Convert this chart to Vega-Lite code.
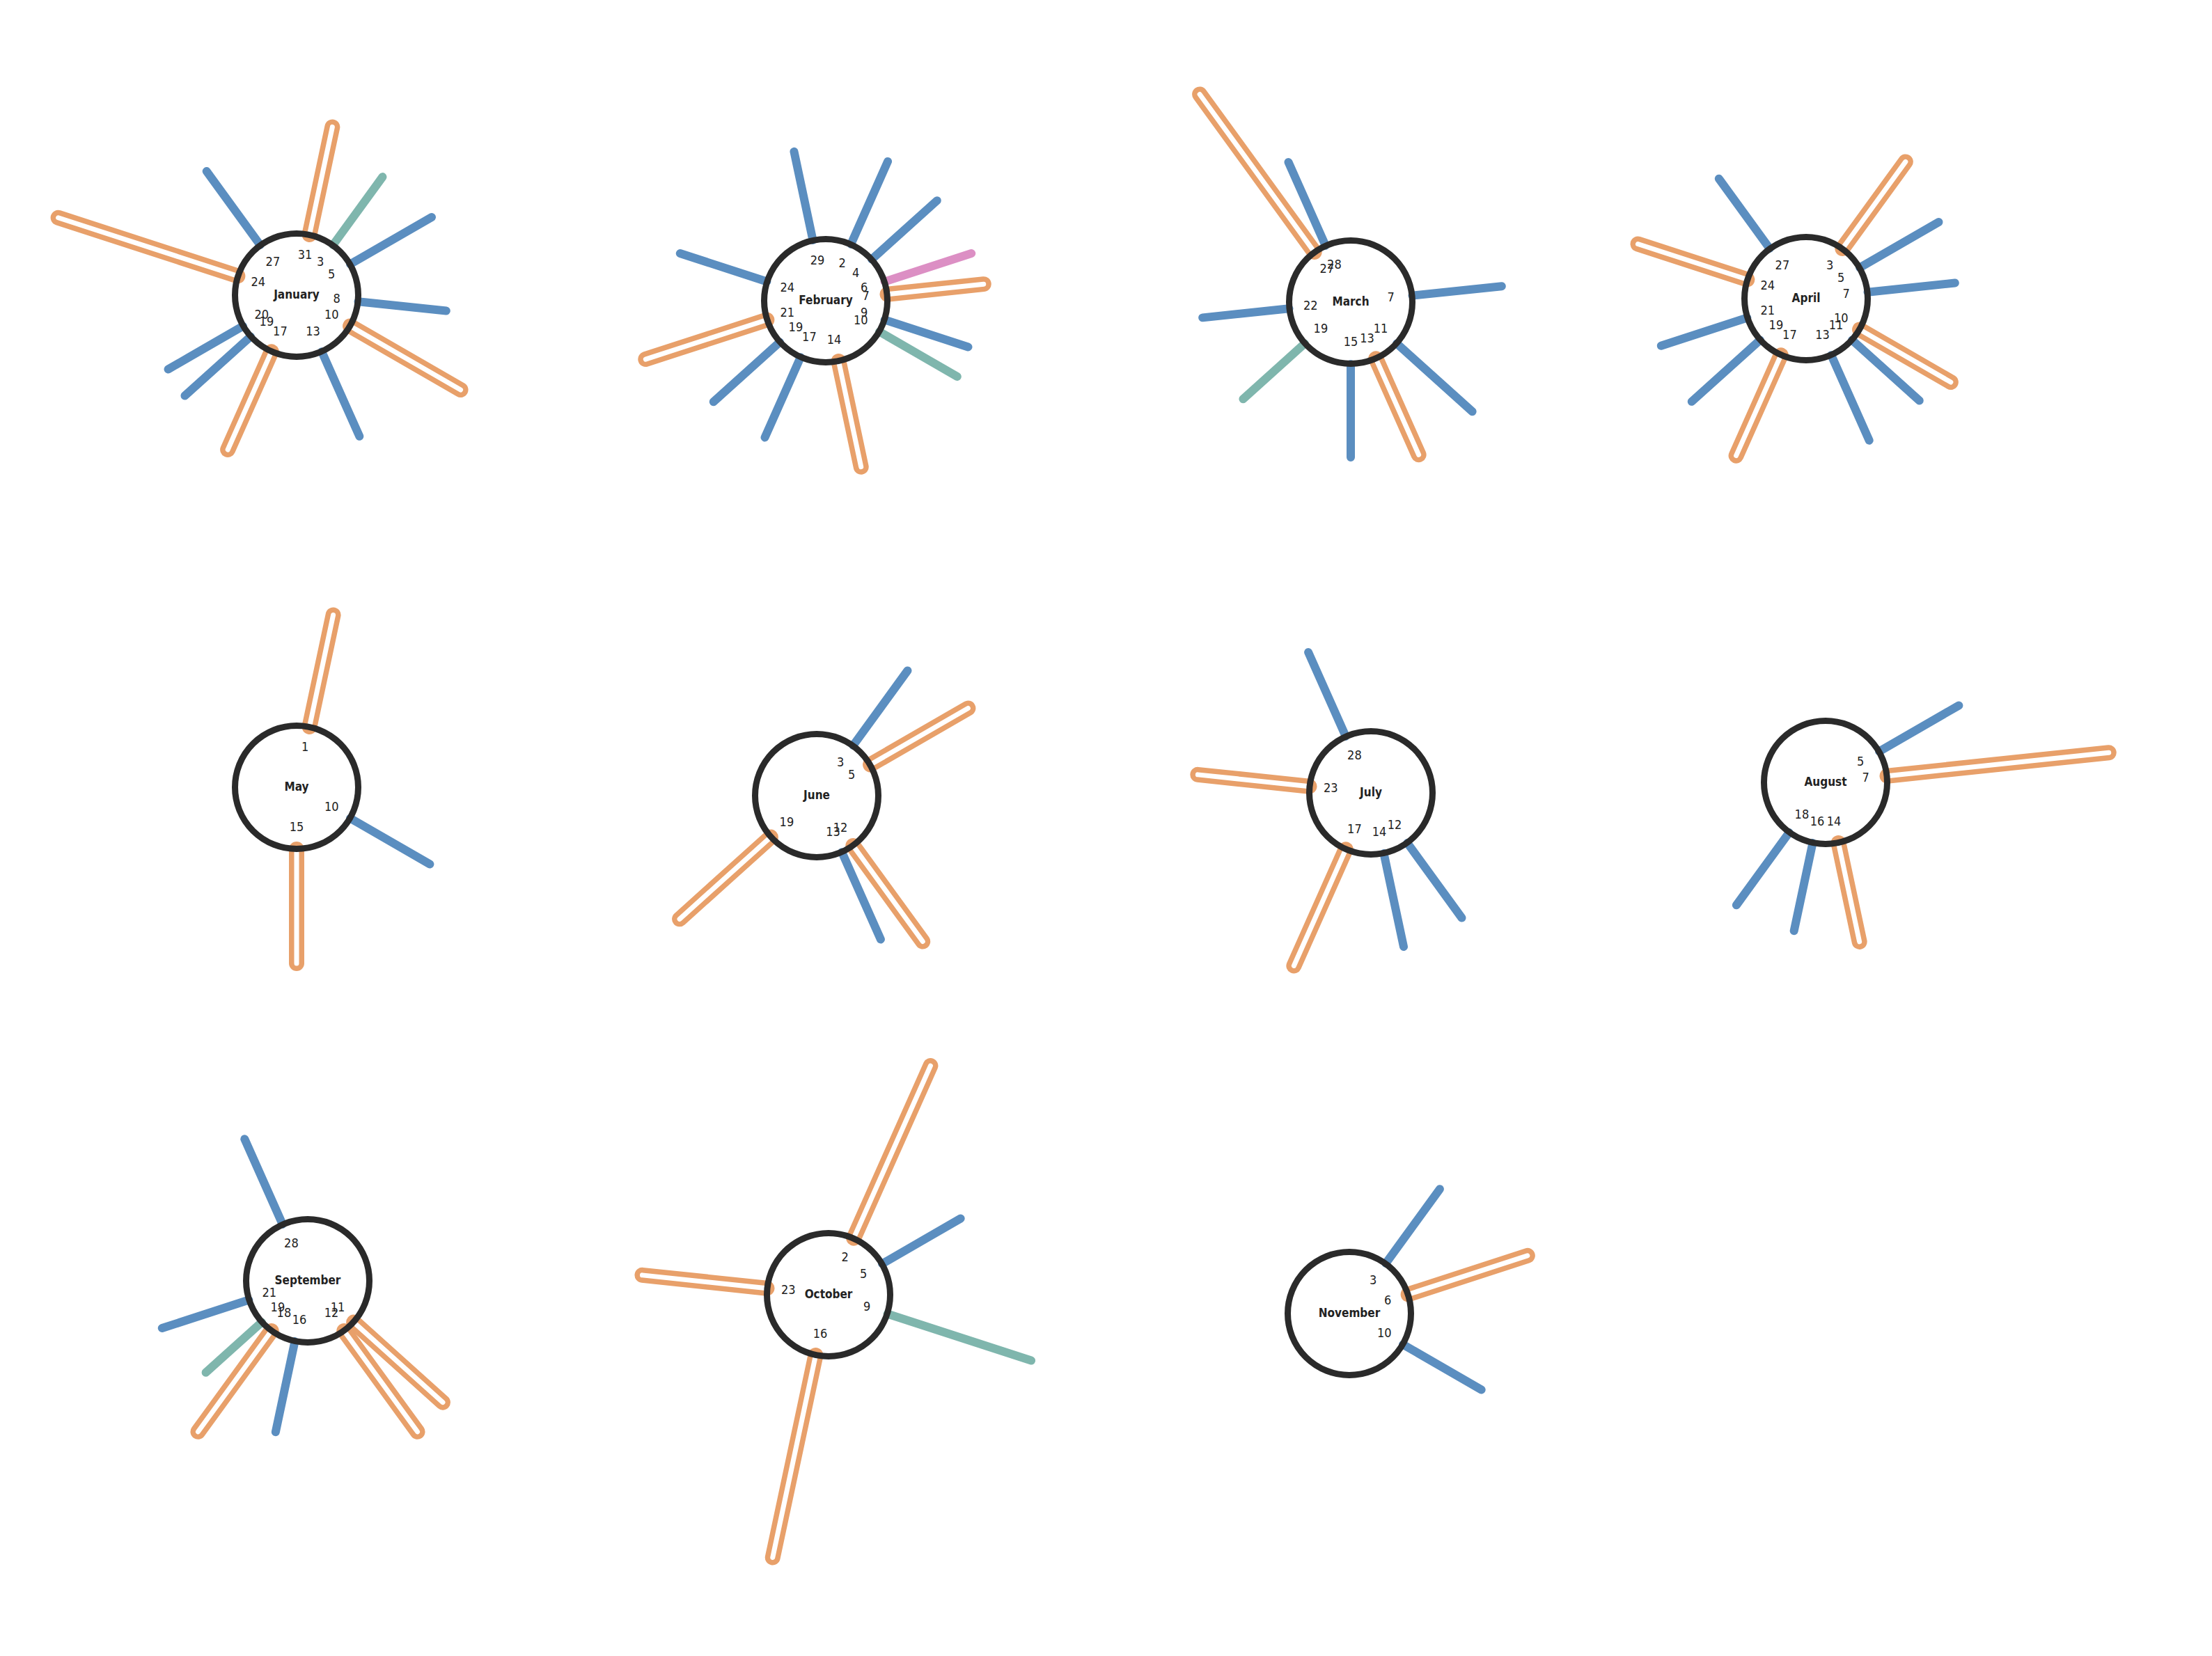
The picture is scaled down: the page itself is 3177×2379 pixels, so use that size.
{
  "$schema": "https://vega.github.io/schema/vega-lite/v6.json",
  "padding": 0,
  "background": "white",
  "config": {"view": {"stroke": null}},
  "columns": 4,
  "align": "each",
  "bounds": "flush",
  "spacing": 0,
  "data": {"values": [
    {"month": "January", "day": 24, "category": "B", "length": 271},
    {"month": "January", "day": 27, "category": "A", "length": 131},
    {"month": "January", "day": 31, "category": "B", "length": 158},
    {"month": "January", "day": 3, "category": "C", "length": 121},
    {"month": "January", "day": 5, "category": "A", "length": 135},
    {"month": "January", "day": 8, "category": "A", "length": 127},
    {"month": "January", "day": 10, "category": "B", "length": 183},
    {"month": "January", "day": 13, "category": "A", "length": 133},
    {"month": "January", "day": 17, "category": "B", "length": 154},
    {"month": "January", "day": 19, "category": "A", "length": 127},
    {"month": "January", "day": 20, "category": "A", "length": 124},
    {"month": "February", "day": 29, "category": "A", "length": 130},
    {"month": "February", "day": 2, "category": "A", "length": 130},
    {"month": "February", "day": 4, "category": "A", "length": 126},
    {"month": "February", "day": 6, "category": "D", "length": 131},
    {"month": "February", "day": 7, "category": "B", "length": 139},
    {"month": "February", "day": 9, "category": "A", "length": 126},
    {"month": "February", "day": 10, "category": "C", "length": 129},
    {"month": "February", "day": 14, "category": "B", "length": 155},
    {"month": "February", "day": 17, "category": "A", "length": 126},
    {"month": "February", "day": 19, "category": "A", "length": 128},
    {"month": "February", "day": 21, "category": "B", "length": 183},
    {"month": "February", "day": 24, "category": "A", "length": 131},
    {"month": "March", "day": 27, "category": "B", "length": 280},
    {"month": "March", "day": 28, "category": "A", "length": 131},
    {"month": "March", "day": 7, "category": "A", "length": 129},
    {"month": "March", "day": 11, "category": "A", "length": 146},
    {"month": "March", "day": 13, "category": "B", "length": 151},
    {"month": "March", "day": 15, "category": "A", "length": 134},
    {"month": "March", "day": 19, "category": "C", "length": 119},
    {"month": "March", "day": 22, "category": "A", "length": 125},
    {"month": "April", "day": 27, "category": "A", "length": 124},
    {"month": "April", "day": 3, "category": "B", "length": 154},
    {"month": "April", "day": 5, "category": "A", "length": 131},
    {"month": "April", "day": 7, "category": "A", "length": 126},
    {"month": "April", "day": 10, "category": "B", "length": 151},
    {"month": "April", "day": 11, "category": "A", "length": 130},
    {"month": "April", "day": 13, "category": "A", "length": 134},
    {"month": "April", "day": 17, "category": "B", "length": 158},
    {"month": "April", "day": 19, "category": "A", "length": 132},
    {"month": "April", "day": 21, "category": "A", "length": 130},
    {"month": "April", "day": 24, "category": "B", "length": 165},
    {"month": "May", "day": 1, "category": "B", "length": 164},
    {"month": "May", "day": 10, "category": "A", "length": 132},
    {"month": "May", "day": 15, "category": "B", "length": 164},
    {"month": "June", "day": 3, "category": "A", "length": 133},
    {"month": "June", "day": 5, "category": "B", "length": 162},
    {"month": "June", "day": 12, "category": "B", "length": 170},
    {"month": "June", "day": 13, "category": "A", "length": 137},
    {"month": "June", "day": 19, "category": "B", "length": 176},
    {"month": "July", "day": 28, "category": "A", "length": 132},
    {"month": "July", "day": 23, "category": "B", "length": 161},
    {"month": "July", "day": 17, "category": "B", "length": 183},
    {"month": "July", "day": 14, "category": "A", "length": 137},
    {"month": "July", "day": 12, "category": "A", "length": 133},
    {"month": "August", "day": 5, "category": "A", "length": 132},
    {"month": "August", "day": 7, "category": "B", "length": 320},
    {"month": "August", "day": 14, "category": "B", "length": 145},
    {"month": "August", "day": 16, "category": "A", "length": 129},
    {"month": "August", "day": 18, "category": "A", "length": 129},
    {"month": "September", "day": 28, "category": "A", "length": 134},
    {"month": "September", "day": 21, "category": "A", "length": 131},
    {"month": "September", "day": 19, "category": "C", "length": 108},
    {"month": "September", "day": 18, "category": "B", "length": 179},
    {"month": "September", "day": 16, "category": "A", "length": 133},
    {"month": "September", "day": 12, "category": "B", "length": 179},
    {"month": "September", "day": 11, "category": "B", "length": 172},
    {"month": "October", "day": 2, "category": "B", "length": 271},
    {"month": "October", "day": 5, "category": "A", "length": 130},
    {"month": "October", "day": 9, "category": "C", "length": 217},
    {"month": "October", "day": 16, "category": "B", "length": 297},
    {"month": "October", "day": 23, "category": "B", "length": 180},
    {"month": "November", "day": 3, "category": "A", "length": 132},
    {"month": "November", "day": 6, "category": "B", "length": 180},
    {"month": "November", "day": 10, "category": "A", "length": 130}
  ]},
  "concat": [
    {"width": 852, "height": 848, "transform": [{"filter": {"field": "month", "equal": "January"}}], "layer": [
      {"transform": [{"filter": {"field": "category", "oneOf": ["A", "C", "D"]}}], "mark": {"type": "arc", "filled": false, "strokeWidth": 12, "strokeJoin": "round", "strokeCap": "round"}, "encoding": {"theta": {"field": "day", "type": "quantitative", "stack": null, "scale": {"type": "linear", "domain": [0, 30], "range": [0, 6.283185307179586], "zero": false, "nice": false}}, "theta2": {"field": "day"}, "radius": {"field": "length", "type": "quantitative", "scale": {"type": "linear", "domain": [0, 400], "range": [89, 489], "zero": false, "nice": false}}, "radius2": {"datum": 0}, "color": {"field": "category", "type": "nominal", "scale": {"domain": ["A", "B", "C", "D"], "range": ["#5b8ec0", "#e8a06a", "#7fb6ad", "#dc8fc4"]}, "legend": null}}},
      {"transform": [{"filter": {"field": "category", "equal": "B"}}], "mark": {"type": "arc", "filled": false, "strokeWidth": 22, "strokeJoin": "round", "strokeCap": "round"}, "encoding": {"theta": {"field": "day", "type": "quantitative", "stack": null, "scale": {"type": "linear", "domain": [0, 30], "range": [0, 6.283185307179586], "zero": false, "nice": false}}, "theta2": {"field": "day"}, "radius": {"field": "length", "type": "quantitative", "scale": {"type": "linear", "domain": [0, 400], "range": [89, 489], "zero": false, "nice": false}}, "radius2": {"datum": 0}, "color": {"field": "category", "type": "nominal", "scale": {"domain": ["A", "B", "C", "D"], "range": ["#5b8ec0", "#e8a06a", "#7fb6ad", "#dc8fc4"]}, "legend": null}}},
      {"transform": [{"filter": {"field": "category", "equal": "B"}}], "mark": {"type": "arc", "filled": false, "stroke": "white", "strokeWidth": 7, "strokeJoin": "round", "strokeCap": "round"}, "encoding": {"theta": {"field": "day", "type": "quantitative", "stack": null, "scale": {"type": "linear", "domain": [0, 30], "range": [0, 6.283185307179586], "zero": false, "nice": false}}, "theta2": {"field": "day"}, "radius": {"field": "length", "type": "quantitative", "scale": {"type": "linear", "domain": [0, 400], "range": [89, 489], "zero": false, "nice": false}}, "radius2": {"datum": 0}}},
      {"transform": [{"aggregate": [{"op": "count", "as": "rays"}], "groupby": ["month"]}], "mark": {"type": "arc", "theta": 6.283185307179586, "radius": 88.5, "filled": false, "stroke": "#2a2a2a", "strokeWidth": 9}, "encoding": {}},
      {"mark": {"type": "text", "font": "DejaVu Sans Condensed, DejaVu Sans", "fontSize": 18, "color": "#222222"}, "encoding": {"theta": {"field": "day", "type": "quantitative", "stack": null, "scale": {"type": "linear", "domain": [0, 30], "range": [0, 6.283185307179586], "zero": false, "nice": false}}, "radius": {"value": 58}, "text": {"field": "day", "type": "nominal"}}},
      {"transform": [{"aggregate": [{"op": "count", "as": "rays"}], "groupby": ["month"]}], "mark": {"type": "text", "font": "DejaVu Sans Condensed, DejaVu Sans", "fontSize": 17, "fontWeight": "bold", "color": "#222222"}, "encoding": {"text": {"field": "month", "type": "nominal"}}}
    ]},
    {"width": 604, "height": 864, "transform": [{"filter": {"field": "month", "equal": "February"}}], "layer": [
      {"transform": [{"filter": {"field": "category", "oneOf": ["A", "C", "D"]}}], "mark": {"type": "arc", "filled": false, "strokeWidth": 12, "strokeJoin": "round", "strokeCap": "round"}, "encoding": {"theta": {"field": "day", "type": "quantitative", "stack": null, "scale": {"type": "linear", "domain": [0, 30], "range": [0, 6.283185307179586], "zero": false, "nice": false}}, "theta2": {"field": "day"}, "radius": {"field": "length", "type": "quantitative", "scale": {"type": "linear", "domain": [0, 400], "range": [89, 489], "zero": false, "nice": false}}, "radius2": {"datum": 0}, "color": {"field": "category", "type": "nominal", "scale": {"domain": ["A", "B", "C", "D"], "range": ["#5b8ec0", "#e8a06a", "#7fb6ad", "#dc8fc4"]}, "legend": null}}},
      {"transform": [{"filter": {"field": "category", "equal": "B"}}], "mark": {"type": "arc", "filled": false, "strokeWidth": 22, "strokeJoin": "round", "strokeCap": "round"}, "encoding": {"theta": {"field": "day", "type": "quantitative", "stack": null, "scale": {"type": "linear", "domain": [0, 30], "range": [0, 6.283185307179586], "zero": false, "nice": false}}, "theta2": {"field": "day"}, "radius": {"field": "length", "type": "quantitative", "scale": {"type": "linear", "domain": [0, 400], "range": [89, 489], "zero": false, "nice": false}}, "radius2": {"datum": 0}, "color": {"field": "category", "type": "nominal", "scale": {"domain": ["A", "B", "C", "D"], "range": ["#5b8ec0", "#e8a06a", "#7fb6ad", "#dc8fc4"]}, "legend": null}}},
      {"transform": [{"filter": {"field": "category", "equal": "B"}}], "mark": {"type": "arc", "filled": false, "stroke": "white", "strokeWidth": 7, "strokeJoin": "round", "strokeCap": "round"}, "encoding": {"theta": {"field": "day", "type": "quantitative", "stack": null, "scale": {"type": "linear", "domain": [0, 30], "range": [0, 6.283185307179586], "zero": false, "nice": false}}, "theta2": {"field": "day"}, "radius": {"field": "length", "type": "quantitative", "scale": {"type": "linear", "domain": [0, 400], "range": [89, 489], "zero": false, "nice": false}}, "radius2": {"datum": 0}}},
      {"transform": [{"aggregate": [{"op": "count", "as": "rays"}], "groupby": ["month"]}], "mark": {"type": "arc", "theta": 6.283185307179586, "radius": 88.5, "filled": false, "stroke": "#2a2a2a", "strokeWidth": 9}, "encoding": {}},
      {"mark": {"type": "text", "font": "DejaVu Sans Condensed, DejaVu Sans", "fontSize": 18, "color": "#222222"}, "encoding": {"theta": {"field": "day", "type": "quantitative", "stack": null, "scale": {"type": "linear", "domain": [0, 30], "range": [0, 6.283185307179586], "zero": false, "nice": false}}, "radius": {"value": 58}, "text": {"field": "day", "type": "nominal"}}},
      {"transform": [{"aggregate": [{"op": "count", "as": "rays"}], "groupby": ["month"]}], "mark": {"type": "text", "font": "DejaVu Sans Condensed, DejaVu Sans", "fontSize": 17, "fontWeight": "bold", "color": "#222222"}, "encoding": {"text": {"field": "month", "type": "nominal"}}}
    ]},
    {"width": 888, "height": 868, "transform": [{"filter": {"field": "month", "equal": "March"}}], "layer": [
      {"transform": [{"filter": {"field": "category", "oneOf": ["A", "C", "D"]}}], "mark": {"type": "arc", "filled": false, "strokeWidth": 12, "strokeJoin": "round", "strokeCap": "round"}, "encoding": {"theta": {"field": "day", "type": "quantitative", "stack": null, "scale": {"type": "linear", "domain": [0, 30], "range": [0, 6.283185307179586], "zero": false, "nice": false}}, "theta2": {"field": "day"}, "radius": {"field": "length", "type": "quantitative", "scale": {"type": "linear", "domain": [0, 400], "range": [89, 489], "zero": false, "nice": false}}, "radius2": {"datum": 0}, "color": {"field": "category", "type": "nominal", "scale": {"domain": ["A", "B", "C", "D"], "range": ["#5b8ec0", "#e8a06a", "#7fb6ad", "#dc8fc4"]}, "legend": null}}},
      {"transform": [{"filter": {"field": "category", "equal": "B"}}], "mark": {"type": "arc", "filled": false, "strokeWidth": 22, "strokeJoin": "round", "strokeCap": "round"}, "encoding": {"theta": {"field": "day", "type": "quantitative", "stack": null, "scale": {"type": "linear", "domain": [0, 30], "range": [0, 6.283185307179586], "zero": false, "nice": false}}, "theta2": {"field": "day"}, "radius": {"field": "length", "type": "quantitative", "scale": {"type": "linear", "domain": [0, 400], "range": [89, 489], "zero": false, "nice": false}}, "radius2": {"datum": 0}, "color": {"field": "category", "type": "nominal", "scale": {"domain": ["A", "B", "C", "D"], "range": ["#5b8ec0", "#e8a06a", "#7fb6ad", "#dc8fc4"]}, "legend": null}}},
      {"transform": [{"filter": {"field": "category", "equal": "B"}}], "mark": {"type": "arc", "filled": false, "stroke": "white", "strokeWidth": 7, "strokeJoin": "round", "strokeCap": "round"}, "encoding": {"theta": {"field": "day", "type": "quantitative", "stack": null, "scale": {"type": "linear", "domain": [0, 30], "range": [0, 6.283185307179586], "zero": false, "nice": false}}, "theta2": {"field": "day"}, "radius": {"field": "length", "type": "quantitative", "scale": {"type": "linear", "domain": [0, 400], "range": [89, 489], "zero": false, "nice": false}}, "radius2": {"datum": 0}}},
      {"transform": [{"aggregate": [{"op": "count", "as": "rays"}], "groupby": ["month"]}], "mark": {"type": "arc", "theta": 6.283185307179586, "radius": 88.5, "filled": false, "stroke": "#2a2a2a", "strokeWidth": 9}, "encoding": {}},
      {"mark": {"type": "text", "font": "DejaVu Sans Condensed, DejaVu Sans", "fontSize": 18, "color": "#222222"}, "encoding": {"theta": {"field": "day", "type": "quantitative", "stack": null, "scale": {"type": "linear", "domain": [0, 30], "range": [0, 6.283185307179586], "zero": false, "nice": false}}, "radius": {"value": 58}, "text": {"field": "day", "type": "nominal"}}},
      {"transform": [{"aggregate": [{"op": "count", "as": "rays"}], "groupby": ["month"]}], "mark": {"type": "text", "font": "DejaVu Sans Condensed, DejaVu Sans", "fontSize": 17, "fontWeight": "bold", "color": "#222222"}, "encoding": {"text": {"field": "month", "type": "nominal"}}}
    ]},
    {"width": 304, "height": 858, "transform": [{"filter": {"field": "month", "equal": "April"}}], "layer": [
      {"transform": [{"filter": {"field": "category", "oneOf": ["A", "C", "D"]}}], "mark": {"type": "arc", "filled": false, "strokeWidth": 12, "strokeJoin": "round", "strokeCap": "round"}, "encoding": {"theta": {"field": "day", "type": "quantitative", "stack": null, "scale": {"type": "linear", "domain": [0, 30], "range": [0, 6.283185307179586], "zero": false, "nice": false}}, "theta2": {"field": "day"}, "radius": {"field": "length", "type": "quantitative", "scale": {"type": "linear", "domain": [0, 400], "range": [89, 489], "zero": false, "nice": false}}, "radius2": {"datum": 0}, "color": {"field": "category", "type": "nominal", "scale": {"domain": ["A", "B", "C", "D"], "range": ["#5b8ec0", "#e8a06a", "#7fb6ad", "#dc8fc4"]}, "legend": null}}},
      {"transform": [{"filter": {"field": "category", "equal": "B"}}], "mark": {"type": "arc", "filled": false, "strokeWidth": 22, "strokeJoin": "round", "strokeCap": "round"}, "encoding": {"theta": {"field": "day", "type": "quantitative", "stack": null, "scale": {"type": "linear", "domain": [0, 30], "range": [0, 6.283185307179586], "zero": false, "nice": false}}, "theta2": {"field": "day"}, "radius": {"field": "length", "type": "quantitative", "scale": {"type": "linear", "domain": [0, 400], "range": [89, 489], "zero": false, "nice": false}}, "radius2": {"datum": 0}, "color": {"field": "category", "type": "nominal", "scale": {"domain": ["A", "B", "C", "D"], "range": ["#5b8ec0", "#e8a06a", "#7fb6ad", "#dc8fc4"]}, "legend": null}}},
      {"transform": [{"filter": {"field": "category", "equal": "B"}}], "mark": {"type": "arc", "filled": false, "stroke": "white", "strokeWidth": 7, "strokeJoin": "round", "strokeCap": "round"}, "encoding": {"theta": {"field": "day", "type": "quantitative", "stack": null, "scale": {"type": "linear", "domain": [0, 30], "range": [0, 6.283185307179586], "zero": false, "nice": false}}, "theta2": {"field": "day"}, "radius": {"field": "length", "type": "quantitative", "scale": {"type": "linear", "domain": [0, 400], "range": [89, 489], "zero": false, "nice": false}}, "radius2": {"datum": 0}}},
      {"transform": [{"aggregate": [{"op": "count", "as": "rays"}], "groupby": ["month"]}], "mark": {"type": "arc", "theta": 6.283185307179586, "radius": 88.5, "filled": false, "stroke": "#2a2a2a", "strokeWidth": 9}, "encoding": {}},
      {"mark": {"type": "text", "font": "DejaVu Sans Condensed, DejaVu Sans", "fontSize": 18, "color": "#222222"}, "encoding": {"theta": {"field": "day", "type": "quantitative", "stack": null, "scale": {"type": "linear", "domain": [0, 30], "range": [0, 6.283185307179586], "zero": false, "nice": false}}, "radius": {"value": 58}, "text": {"field": "day", "type": "nominal"}}},
      {"transform": [{"aggregate": [{"op": "count", "as": "rays"}], "groupby": ["month"]}], "mark": {"type": "text", "font": "DejaVu Sans Condensed, DejaVu Sans", "fontSize": 17, "fontWeight": "bold", "color": "#222222"}, "encoding": {"text": {"field": "month", "type": "nominal"}}}
    ]},
    {"width": 852, "height": 526, "transform": [{"filter": {"field": "month", "equal": "May"}}], "layer": [
      {"transform": [{"filter": {"field": "category", "oneOf": ["A", "C", "D"]}}], "mark": {"type": "arc", "filled": false, "strokeWidth": 12, "strokeJoin": "round", "strokeCap": "round"}, "encoding": {"theta": {"field": "day", "type": "quantitative", "stack": null, "scale": {"type": "linear", "domain": [0, 30], "range": [0, 6.283185307179586], "zero": false, "nice": false}}, "theta2": {"field": "day"}, "radius": {"field": "length", "type": "quantitative", "scale": {"type": "linear", "domain": [0, 400], "range": [89, 489], "zero": false, "nice": false}}, "radius2": {"datum": 0}, "color": {"field": "category", "type": "nominal", "scale": {"domain": ["A", "B", "C", "D"], "range": ["#5b8ec0", "#e8a06a", "#7fb6ad", "#dc8fc4"]}, "legend": null}}},
      {"transform": [{"filter": {"field": "category", "equal": "B"}}], "mark": {"type": "arc", "filled": false, "strokeWidth": 22, "strokeJoin": "round", "strokeCap": "round"}, "encoding": {"theta": {"field": "day", "type": "quantitative", "stack": null, "scale": {"type": "linear", "domain": [0, 30], "range": [0, 6.283185307179586], "zero": false, "nice": false}}, "theta2": {"field": "day"}, "radius": {"field": "length", "type": "quantitative", "scale": {"type": "linear", "domain": [0, 400], "range": [89, 489], "zero": false, "nice": false}}, "radius2": {"datum": 0}, "color": {"field": "category", "type": "nominal", "scale": {"domain": ["A", "B", "C", "D"], "range": ["#5b8ec0", "#e8a06a", "#7fb6ad", "#dc8fc4"]}, "legend": null}}},
      {"transform": [{"filter": {"field": "category", "equal": "B"}}], "mark": {"type": "arc", "filled": false, "stroke": "white", "strokeWidth": 7, "strokeJoin": "round", "strokeCap": "round"}, "encoding": {"theta": {"field": "day", "type": "quantitative", "stack": null, "scale": {"type": "linear", "domain": [0, 30], "range": [0, 6.283185307179586], "zero": false, "nice": false}}, "theta2": {"field": "day"}, "radius": {"field": "length", "type": "quantitative", "scale": {"type": "linear", "domain": [0, 400], "range": [89, 489], "zero": false, "nice": false}}, "radius2": {"datum": 0}}},
      {"transform": [{"aggregate": [{"op": "count", "as": "rays"}], "groupby": ["month"]}], "mark": {"type": "arc", "theta": 6.283185307179586, "radius": 88.5, "filled": false, "stroke": "#2a2a2a", "strokeWidth": 9}, "encoding": {}},
      {"mark": {"type": "text", "font": "DejaVu Sans Condensed, DejaVu Sans", "fontSize": 18, "color": "#222222"}, "encoding": {"theta": {"field": "day", "type": "quantitative", "stack": null, "scale": {"type": "linear", "domain": [0, 30], "range": [0, 6.283185307179586], "zero": false, "nice": false}}, "radius": {"value": 58}, "text": {"field": "day", "type": "nominal"}}},
      {"transform": [{"aggregate": [{"op": "count", "as": "rays"}], "groupby": ["month"]}], "mark": {"type": "text", "font": "DejaVu Sans Condensed, DejaVu Sans", "fontSize": 17, "fontWeight": "bold", "color": "#222222"}, "encoding": {"text": {"field": "month", "type": "nominal"}}}
    ]},
    {"width": 578, "height": 550, "transform": [{"filter": {"field": "month", "equal": "June"}}], "layer": [
      {"transform": [{"filter": {"field": "category", "oneOf": ["A", "C", "D"]}}], "mark": {"type": "arc", "filled": false, "strokeWidth": 12, "strokeJoin": "round", "strokeCap": "round"}, "encoding": {"theta": {"field": "day", "type": "quantitative", "stack": null, "scale": {"type": "linear", "domain": [0, 30], "range": [0, 6.283185307179586], "zero": false, "nice": false}}, "theta2": {"field": "day"}, "radius": {"field": "length", "type": "quantitative", "scale": {"type": "linear", "domain": [0, 400], "range": [89, 489], "zero": false, "nice": false}}, "radius2": {"datum": 0}, "color": {"field": "category", "type": "nominal", "scale": {"domain": ["A", "B", "C", "D"], "range": ["#5b8ec0", "#e8a06a", "#7fb6ad", "#dc8fc4"]}, "legend": null}}},
      {"transform": [{"filter": {"field": "category", "equal": "B"}}], "mark": {"type": "arc", "filled": false, "strokeWidth": 22, "strokeJoin": "round", "strokeCap": "round"}, "encoding": {"theta": {"field": "day", "type": "quantitative", "stack": null, "scale": {"type": "linear", "domain": [0, 30], "range": [0, 6.283185307179586], "zero": false, "nice": false}}, "theta2": {"field": "day"}, "radius": {"field": "length", "type": "quantitative", "scale": {"type": "linear", "domain": [0, 400], "range": [89, 489], "zero": false, "nice": false}}, "radius2": {"datum": 0}, "color": {"field": "category", "type": "nominal", "scale": {"domain": ["A", "B", "C", "D"], "range": ["#5b8ec0", "#e8a06a", "#7fb6ad", "#dc8fc4"]}, "legend": null}}},
      {"transform": [{"filter": {"field": "category", "equal": "B"}}], "mark": {"type": "arc", "filled": false, "stroke": "white", "strokeWidth": 7, "strokeJoin": "round", "strokeCap": "round"}, "encoding": {"theta": {"field": "day", "type": "quantitative", "stack": null, "scale": {"type": "linear", "domain": [0, 30], "range": [0, 6.283185307179586], "zero": false, "nice": false}}, "theta2": {"field": "day"}, "radius": {"field": "length", "type": "quantitative", "scale": {"type": "linear", "domain": [0, 400], "range": [89, 489], "zero": false, "nice": false}}, "radius2": {"datum": 0}}},
      {"transform": [{"aggregate": [{"op": "count", "as": "rays"}], "groupby": ["month"]}], "mark": {"type": "arc", "theta": 6.283185307179586, "radius": 88.5, "filled": false, "stroke": "#2a2a2a", "strokeWidth": 9}, "encoding": {}},
      {"mark": {"type": "text", "font": "DejaVu Sans Condensed, DejaVu Sans", "fontSize": 18, "color": "#222222"}, "encoding": {"theta": {"field": "day", "type": "quantitative", "stack": null, "scale": {"type": "linear", "domain": [0, 30], "range": [0, 6.283185307179586], "zero": false, "nice": false}}, "radius": {"value": 58}, "text": {"field": "day", "type": "nominal"}}},
      {"transform": [{"aggregate": [{"op": "count", "as": "rays"}], "groupby": ["month"]}], "mark": {"type": "text", "font": "DejaVu Sans Condensed, DejaVu Sans", "fontSize": 17, "fontWeight": "bold", "color": "#222222"}, "encoding": {"text": {"field": "month", "type": "nominal"}}}
    ]},
    {"width": 946, "height": 542, "transform": [{"filter": {"field": "month", "equal": "July"}}], "layer": [
      {"transform": [{"filter": {"field": "category", "oneOf": ["A", "C", "D"]}}], "mark": {"type": "arc", "filled": false, "strokeWidth": 12, "strokeJoin": "round", "strokeCap": "round"}, "encoding": {"theta": {"field": "day", "type": "quantitative", "stack": null, "scale": {"type": "linear", "domain": [0, 30], "range": [0, 6.283185307179586], "zero": false, "nice": false}}, "theta2": {"field": "day"}, "radius": {"field": "length", "type": "quantitative", "scale": {"type": "linear", "domain": [0, 400], "range": [89, 489], "zero": false, "nice": false}}, "radius2": {"datum": 0}, "color": {"field": "category", "type": "nominal", "scale": {"domain": ["A", "B", "C", "D"], "range": ["#5b8ec0", "#e8a06a", "#7fb6ad", "#dc8fc4"]}, "legend": null}}},
      {"transform": [{"filter": {"field": "category", "equal": "B"}}], "mark": {"type": "arc", "filled": false, "strokeWidth": 22, "strokeJoin": "round", "strokeCap": "round"}, "encoding": {"theta": {"field": "day", "type": "quantitative", "stack": null, "scale": {"type": "linear", "domain": [0, 30], "range": [0, 6.283185307179586], "zero": false, "nice": false}}, "theta2": {"field": "day"}, "radius": {"field": "length", "type": "quantitative", "scale": {"type": "linear", "domain": [0, 400], "range": [89, 489], "zero": false, "nice": false}}, "radius2": {"datum": 0}, "color": {"field": "category", "type": "nominal", "scale": {"domain": ["A", "B", "C", "D"], "range": ["#5b8ec0", "#e8a06a", "#7fb6ad", "#dc8fc4"]}, "legend": null}}},
      {"transform": [{"filter": {"field": "category", "equal": "B"}}], "mark": {"type": "arc", "filled": false, "stroke": "white", "strokeWidth": 7, "strokeJoin": "round", "strokeCap": "round"}, "encoding": {"theta": {"field": "day", "type": "quantitative", "stack": null, "scale": {"type": "linear", "domain": [0, 30], "range": [0, 6.283185307179586], "zero": false, "nice": false}}, "theta2": {"field": "day"}, "radius": {"field": "length", "type": "quantitative", "scale": {"type": "linear", "domain": [0, 400], "range": [89, 489], "zero": false, "nice": false}}, "radius2": {"datum": 0}}},
      {"transform": [{"aggregate": [{"op": "count", "as": "rays"}], "groupby": ["month"]}], "mark": {"type": "arc", "theta": 6.283185307179586, "radius": 88.5, "filled": false, "stroke": "#2a2a2a", "strokeWidth": 9}, "encoding": {}},
      {"mark": {"type": "text", "font": "DejaVu Sans Condensed, DejaVu Sans", "fontSize": 18, "color": "#222222"}, "encoding": {"theta": {"field": "day", "type": "quantitative", "stack": null, "scale": {"type": "linear", "domain": [0, 30], "range": [0, 6.283185307179586], "zero": false, "nice": false}}, "radius": {"value": 58}, "text": {"field": "day", "type": "nominal"}}},
      {"transform": [{"aggregate": [{"op": "count", "as": "rays"}], "groupby": ["month"]}], "mark": {"type": "text", "font": "DejaVu Sans Condensed, DejaVu Sans", "fontSize": 17, "fontWeight": "bold", "color": "#222222"}, "encoding": {"text": {"field": "month", "type": "nominal"}}}
    ]},
    {"width": 360, "height": 512, "transform": [{"filter": {"field": "month", "equal": "August"}}], "layer": [
      {"transform": [{"filter": {"field": "category", "oneOf": ["A", "C", "D"]}}], "mark": {"type": "arc", "filled": false, "strokeWidth": 12, "strokeJoin": "round", "strokeCap": "round"}, "encoding": {"theta": {"field": "day", "type": "quantitative", "stack": null, "scale": {"type": "linear", "domain": [0, 30], "range": [0, 6.283185307179586], "zero": false, "nice": false}}, "theta2": {"field": "day"}, "radius": {"field": "length", "type": "quantitative", "scale": {"type": "linear", "domain": [0, 400], "range": [89, 489], "zero": false, "nice": false}}, "radius2": {"datum": 0}, "color": {"field": "category", "type": "nominal", "scale": {"domain": ["A", "B", "C", "D"], "range": ["#5b8ec0", "#e8a06a", "#7fb6ad", "#dc8fc4"]}, "legend": null}}},
      {"transform": [{"filter": {"field": "category", "equal": "B"}}], "mark": {"type": "arc", "filled": false, "strokeWidth": 22, "strokeJoin": "round", "strokeCap": "round"}, "encoding": {"theta": {"field": "day", "type": "quantitative", "stack": null, "scale": {"type": "linear", "domain": [0, 30], "range": [0, 6.283185307179586], "zero": false, "nice": false}}, "theta2": {"field": "day"}, "radius": {"field": "length", "type": "quantitative", "scale": {"type": "linear", "domain": [0, 400], "range": [89, 489], "zero": false, "nice": false}}, "radius2": {"datum": 0}, "color": {"field": "category", "type": "nominal", "scale": {"domain": ["A", "B", "C", "D"], "range": ["#5b8ec0", "#e8a06a", "#7fb6ad", "#dc8fc4"]}, "legend": null}}},
      {"transform": [{"filter": {"field": "category", "equal": "B"}}], "mark": {"type": "arc", "filled": false, "stroke": "white", "strokeWidth": 7, "strokeJoin": "round", "strokeCap": "round"}, "encoding": {"theta": {"field": "day", "type": "quantitative", "stack": null, "scale": {"type": "linear", "domain": [0, 30], "range": [0, 6.283185307179586], "zero": false, "nice": false}}, "theta2": {"field": "day"}, "radius": {"field": "length", "type": "quantitative", "scale": {"type": "linear", "domain": [0, 400], "range": [89, 489], "zero": false, "nice": false}}, "radius2": {"datum": 0}}},
      {"transform": [{"aggregate": [{"op": "count", "as": "rays"}], "groupby": ["month"]}], "mark": {"type": "arc", "theta": 6.283185307179586, "radius": 88.5, "filled": false, "stroke": "#2a2a2a", "strokeWidth": 9}, "encoding": {}},
      {"mark": {"type": "text", "font": "DejaVu Sans Condensed, DejaVu Sans", "fontSize": 18, "color": "#222222"}, "encoding": {"theta": {"field": "day", "type": "quantitative", "stack": null, "scale": {"type": "linear", "domain": [0, 30], "range": [0, 6.283185307179586], "zero": false, "nice": false}}, "radius": {"value": 58}, "text": {"field": "day", "type": "nominal"}}},
      {"transform": [{"aggregate": [{"op": "count", "as": "rays"}], "groupby": ["month"]}], "mark": {"type": "text", "font": "DejaVu Sans Condensed, DejaVu Sans", "fontSize": 17, "fontWeight": "bold", "color": "#222222"}, "encoding": {"text": {"field": "month", "type": "nominal"}}}
    ]},
    {"width": 884, "height": 844, "transform": [{"filter": {"field": "month", "equal": "September"}}], "layer": [
      {"transform": [{"filter": {"field": "category", "oneOf": ["A", "C", "D"]}}], "mark": {"type": "arc", "filled": false, "strokeWidth": 12, "strokeJoin": "round", "strokeCap": "round"}, "encoding": {"theta": {"field": "day", "type": "quantitative", "stack": null, "scale": {"type": "linear", "domain": [0, 30], "range": [0, 6.283185307179586], "zero": false, "nice": false}}, "theta2": {"field": "day"}, "radius": {"field": "length", "type": "quantitative", "scale": {"type": "linear", "domain": [0, 400], "range": [89, 489], "zero": false, "nice": false}}, "radius2": {"datum": 0}, "color": {"field": "category", "type": "nominal", "scale": {"domain": ["A", "B", "C", "D"], "range": ["#5b8ec0", "#e8a06a", "#7fb6ad", "#dc8fc4"]}, "legend": null}}},
      {"transform": [{"filter": {"field": "category", "equal": "B"}}], "mark": {"type": "arc", "filled": false, "strokeWidth": 22, "strokeJoin": "round", "strokeCap": "round"}, "encoding": {"theta": {"field": "day", "type": "quantitative", "stack": null, "scale": {"type": "linear", "domain": [0, 30], "range": [0, 6.283185307179586], "zero": false, "nice": false}}, "theta2": {"field": "day"}, "radius": {"field": "length", "type": "quantitative", "scale": {"type": "linear", "domain": [0, 400], "range": [89, 489], "zero": false, "nice": false}}, "radius2": {"datum": 0}, "color": {"field": "category", "type": "nominal", "scale": {"domain": ["A", "B", "C", "D"], "range": ["#5b8ec0", "#e8a06a", "#7fb6ad", "#dc8fc4"]}, "legend": null}}},
      {"transform": [{"filter": {"field": "category", "equal": "B"}}], "mark": {"type": "arc", "filled": false, "stroke": "white", "strokeWidth": 7, "strokeJoin": "round", "strokeCap": "round"}, "encoding": {"theta": {"field": "day", "type": "quantitative", "stack": null, "scale": {"type": "linear", "domain": [0, 30], "range": [0, 6.283185307179586], "zero": false, "nice": false}}, "theta2": {"field": "day"}, "radius": {"field": "length", "type": "quantitative", "scale": {"type": "linear", "domain": [0, 400], "range": [89, 489], "zero": false, "nice": false}}, "radius2": {"datum": 0}}},
      {"transform": [{"aggregate": [{"op": "count", "as": "rays"}], "groupby": ["month"]}], "mark": {"type": "arc", "theta": 6.283185307179586, "radius": 88.5, "filled": false, "stroke": "#2a2a2a", "strokeWidth": 9}, "encoding": {}},
      {"mark": {"type": "text", "font": "DejaVu Sans Condensed, DejaVu Sans", "fontSize": 18, "color": "#222222"}, "encoding": {"theta": {"field": "day", "type": "quantitative", "stack": null, "scale": {"type": "linear", "domain": [0, 30], "range": [0, 6.283185307179586], "zero": false, "nice": false}}, "radius": {"value": 58}, "text": {"field": "day", "type": "nominal"}}},
      {"transform": [{"aggregate": [{"op": "count", "as": "rays"}], "groupby": ["month"]}], "mark": {"type": "text", "font": "DejaVu Sans Condensed, DejaVu Sans", "fontSize": 17, "fontWeight": "bold", "color": "#222222"}, "encoding": {"text": {"field": "month", "type": "nominal"}}}
    ]},
    {"width": 612, "height": 884, "transform": [{"filter": {"field": "month", "equal": "October"}}], "layer": [
      {"transform": [{"filter": {"field": "category", "oneOf": ["A", "C", "D"]}}], "mark": {"type": "arc", "filled": false, "strokeWidth": 12, "strokeJoin": "round", "strokeCap": "round"}, "encoding": {"theta": {"field": "day", "type": "quantitative", "stack": null, "scale": {"type": "linear", "domain": [0, 30], "range": [0, 6.283185307179586], "zero": false, "nice": false}}, "theta2": {"field": "day"}, "radius": {"field": "length", "type": "quantitative", "scale": {"type": "linear", "domain": [0, 400], "range": [89, 489], "zero": false, "nice": false}}, "radius2": {"datum": 0}, "color": {"field": "category", "type": "nominal", "scale": {"domain": ["A", "B", "C", "D"], "range": ["#5b8ec0", "#e8a06a", "#7fb6ad", "#dc8fc4"]}, "legend": null}}},
      {"transform": [{"filter": {"field": "category", "equal": "B"}}], "mark": {"type": "arc", "filled": false, "strokeWidth": 22, "strokeJoin": "round", "strokeCap": "round"}, "encoding": {"theta": {"field": "day", "type": "quantitative", "stack": null, "scale": {"type": "linear", "domain": [0, 30], "range": [0, 6.283185307179586], "zero": false, "nice": false}}, "theta2": {"field": "day"}, "radius": {"field": "length", "type": "quantitative", "scale": {"type": "linear", "domain": [0, 400], "range": [89, 489], "zero": false, "nice": false}}, "radius2": {"datum": 0}, "color": {"field": "category", "type": "nominal", "scale": {"domain": ["A", "B", "C", "D"], "range": ["#5b8ec0", "#e8a06a", "#7fb6ad", "#dc8fc4"]}, "legend": null}}},
      {"transform": [{"filter": {"field": "category", "equal": "B"}}], "mark": {"type": "arc", "filled": false, "stroke": "white", "strokeWidth": 7, "strokeJoin": "round", "strokeCap": "round"}, "encoding": {"theta": {"field": "day", "type": "quantitative", "stack": null, "scale": {"type": "linear", "domain": [0, 30], "range": [0, 6.283185307179586], "zero": false, "nice": false}}, "theta2": {"field": "day"}, "radius": {"field": "length", "type": "quantitative", "scale": {"type": "linear", "domain": [0, 400], "range": [89, 489], "zero": false, "nice": false}}, "radius2": {"datum": 0}}},
      {"transform": [{"aggregate": [{"op": "count", "as": "rays"}], "groupby": ["month"]}], "mark": {"type": "arc", "theta": 6.283185307179586, "radius": 88.5, "filled": false, "stroke": "#2a2a2a", "strokeWidth": 9}, "encoding": {}},
      {"mark": {"type": "text", "font": "DejaVu Sans Condensed, DejaVu Sans", "fontSize": 18, "color": "#222222"}, "encoding": {"theta": {"field": "day", "type": "quantitative", "stack": null, "scale": {"type": "linear", "domain": [0, 30], "range": [0, 6.283185307179586], "zero": false, "nice": false}}, "radius": {"value": 58}, "text": {"field": "day", "type": "nominal"}}},
      {"transform": [{"aggregate": [{"op": "count", "as": "rays"}], "groupby": ["month"]}], "mark": {"type": "text", "font": "DejaVu Sans Condensed, DejaVu Sans", "fontSize": 17, "fontWeight": "bold", "color": "#222222"}, "encoding": {"text": {"field": "month", "type": "nominal"}}}
    ]},
    {"width": 884, "height": 938, "transform": [{"filter": {"field": "month", "equal": "November"}}], "layer": [
      {"transform": [{"filter": {"field": "category", "oneOf": ["A", "C", "D"]}}], "mark": {"type": "arc", "filled": false, "strokeWidth": 12, "strokeJoin": "round", "strokeCap": "round"}, "encoding": {"theta": {"field": "day", "type": "quantitative", "stack": null, "scale": {"type": "linear", "domain": [0, 30], "range": [0, 6.283185307179586], "zero": false, "nice": false}}, "theta2": {"field": "day"}, "radius": {"field": "length", "type": "quantitative", "scale": {"type": "linear", "domain": [0, 400], "range": [89, 489], "zero": false, "nice": false}}, "radius2": {"datum": 0}, "color": {"field": "category", "type": "nominal", "scale": {"domain": ["A", "B", "C", "D"], "range": ["#5b8ec0", "#e8a06a", "#7fb6ad", "#dc8fc4"]}, "legend": null}}},
      {"transform": [{"filter": {"field": "category", "equal": "B"}}], "mark": {"type": "arc", "filled": false, "strokeWidth": 22, "strokeJoin": "round", "strokeCap": "round"}, "encoding": {"theta": {"field": "day", "type": "quantitative", "stack": null, "scale": {"type": "linear", "domain": [0, 30], "range": [0, 6.283185307179586], "zero": false, "nice": false}}, "theta2": {"field": "day"}, "radius": {"field": "length", "type": "quantitative", "scale": {"type": "linear", "domain": [0, 400], "range": [89, 489], "zero": false, "nice": false}}, "radius2": {"datum": 0}, "color": {"field": "category", "type": "nominal", "scale": {"domain": ["A", "B", "C", "D"], "range": ["#5b8ec0", "#e8a06a", "#7fb6ad", "#dc8fc4"]}, "legend": null}}},
      {"transform": [{"filter": {"field": "category", "equal": "B"}}], "mark": {"type": "arc", "filled": false, "stroke": "white", "strokeWidth": 7, "strokeJoin": "round", "strokeCap": "round"}, "encoding": {"theta": {"field": "day", "type": "quantitative", "stack": null, "scale": {"type": "linear", "domain": [0, 30], "range": [0, 6.283185307179586], "zero": false, "nice": false}}, "theta2": {"field": "day"}, "radius": {"field": "length", "type": "quantitative", "scale": {"type": "linear", "domain": [0, 400], "range": [89, 489], "zero": false, "nice": false}}, "radius2": {"datum": 0}}},
      {"transform": [{"aggregate": [{"op": "count", "as": "rays"}], "groupby": ["month"]}], "mark": {"type": "arc", "theta": 6.283185307179586, "radius": 88.5, "filled": false, "stroke": "#2a2a2a", "strokeWidth": 9}, "encoding": {}},
      {"mark": {"type": "text", "font": "DejaVu Sans Condensed, DejaVu Sans", "fontSize": 18, "color": "#222222"}, "encoding": {"theta": {"field": "day", "type": "quantitative", "stack": null, "scale": {"type": "linear", "domain": [0, 30], "range": [0, 6.283185307179586], "zero": false, "nice": false}}, "radius": {"value": 58}, "text": {"field": "day", "type": "nominal"}}},
      {"transform": [{"aggregate": [{"op": "count", "as": "rays"}], "groupby": ["month"]}], "mark": {"type": "text", "font": "DejaVu Sans Condensed, DejaVu Sans", "fontSize": 17, "fontWeight": "bold", "color": "#222222"}, "encoding": {"text": {"field": "month", "type": "nominal"}}}
    ]}
  ]
}
